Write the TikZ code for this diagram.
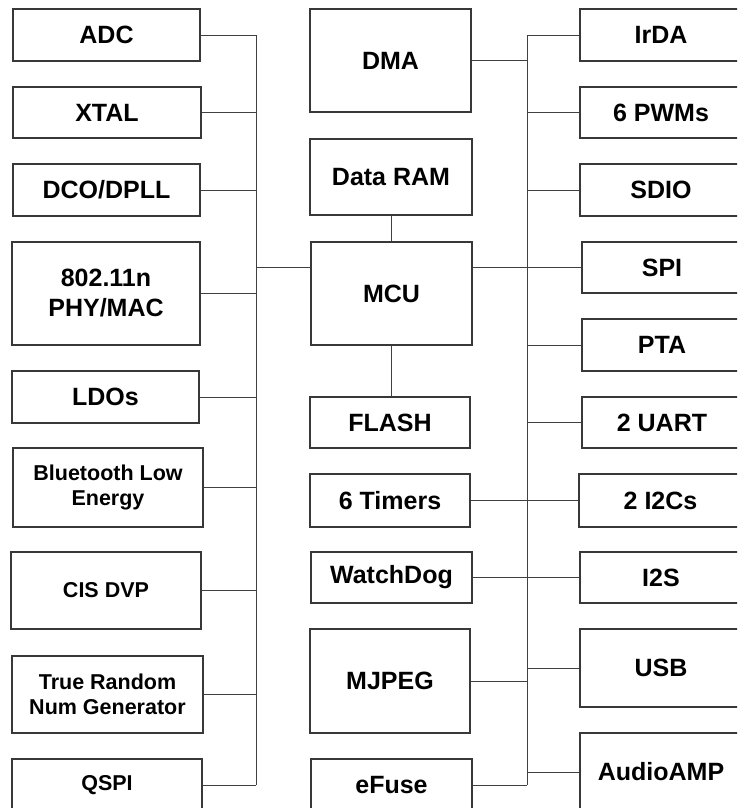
\documentclass[tikz,border=0pt]{standalone}
\usepackage{fontspec}
\setmainfont{Liberation Sans}
\begin{document}
\begin{tikzpicture}[x=1pt,y=-1pt,
  box/.style={draw=black!78, line width=1.1pt, fill=white, inner sep=0pt, align=center,
    font=\bfseries\fontsize{25}{30}\selectfont},
  smallbox/.style={box, font=\bfseries\fontsize{21.5}{25}\selectfont},
  wire/.style={draw=black!75, line width=0.9pt}]
\useasboundingbox (0,0) rectangle (737,808);
\clip (0,0) rectangle (737,808);
\newcommand\bx[7]{\node[#7, minimum width=#4pt-#2pt, minimum height=#5pt-#3pt] (#1) at ({(#2+#4)/2},{(#3+#5)/2}) {#6};}
% left column
\bx{adc}{13}{9}{200}{61}{ADC}{box}
\bx{xtal}{13}{87}{201}{138}{XTAL}{box}
\bx{dco}{13}{164}{200}{216}{DCO/DPLL}{box}
\bx{wifi}{12}{242}{200}{345}{802.11n\\PHY/MAC}{box}
\bx{ldo}{12}{371}{199}{423}{LDOs}{box}
\bx{ble}{13}{448}{203}{527}{Bluetooth Low\\Energy}{smallbox}
\bx{cis}{11}{552}{201}{629}{CIS DVP}{smallbox}
\bx{trng}{12}{656}{203}{733}{True Random\\Num Generator}{smallbox}
\bx{qspi}{12}{759}{202}{811}{QSPI}{smallbox}
% middle column
\bx{dma}{310}{9}{471}{112}{DMA}{box}
\bx{ram}{310}{139}{472}{215}{Data RAM}{box}
\bx{mcu}{311}{242}{472}{345}{MCU}{box}
\bx{flash}{310}{397}{470}{448}{FLASH}{box}
\bx{tim}{310}{474}{470}{527}{6 Timers}{box}
\bx{wdg}{311}{552}{472}{603}{WatchDog}{box}
\bx{mjpeg}{310}{629}{470}{733}{MJPEG}{box}
\bx{efuse}{311}{759}{472}{811}{eFuse}{box}
% right column
\bx{irda}{580}{9}{742}{61}{IrDA}{box}
\bx{pwm}{580}{87}{742}{138}{6 PWMs}{box}
\bx{sdio}{580}{164}{742}{216}{SDIO}{box}
\bx{spi}{582}{242}{742}{293}{SPI}{box}
\bx{pta}{582}{319}{742}{371}{PTA}{box}
\bx{uart}{582}{397}{742}{448}{2 UART}{box}
\bx{i2c}{579}{474}{742}{527}{2 I2Cs}{box}
\bx{i2s}{580}{552}{742}{603}{I2S}{box}
\bx{usb}{580}{629}{742}{707}{USB}{box}
\bx{amp}{580}{733}{742}{811}{AudioAMP}{box}
% buses
\coordinate (lbus) at (256,0);
\coordinate (rbus) at (527,0);
\draw[wire] (lbus |- adc.east) -- (lbus |- qspi.east);
\draw[wire] (rbus |- irda.west) -- (rbus |- efuse.east);
% left connectors
\foreach \n in {adc,xtal,dco,wifi,ldo,ble,cis,trng,qspi}
  \draw[wire] (\n.east) -- (\n.east -| lbus);
\draw[wire] (lbus |- spi.west) -- (mcu.west |- spi.west);
% middle vertical links
\draw[wire] (ram.south) -- (ram.south |- mcu.north);
\draw[wire] (mcu.south) -- (mcu.south |- flash.north);
% right connectors
\foreach \n in {irda,pwm,sdio,pta,uart,usb,amp}
  \draw[wire] (\n.west) -- (\n.west -| rbus);
\foreach \n in {dma,mjpeg,efuse}
  \draw[wire] (\n.east) -- (\n.east -| rbus);
\draw[wire] (mcu.east |- spi.west) -- (spi.west);
\draw[wire] (tim.east) -- (tim.east -| i2c.west);
\draw[wire] (wdg.east) -- (wdg.east -| i2s.west);
\end{tikzpicture}
\end{document}
